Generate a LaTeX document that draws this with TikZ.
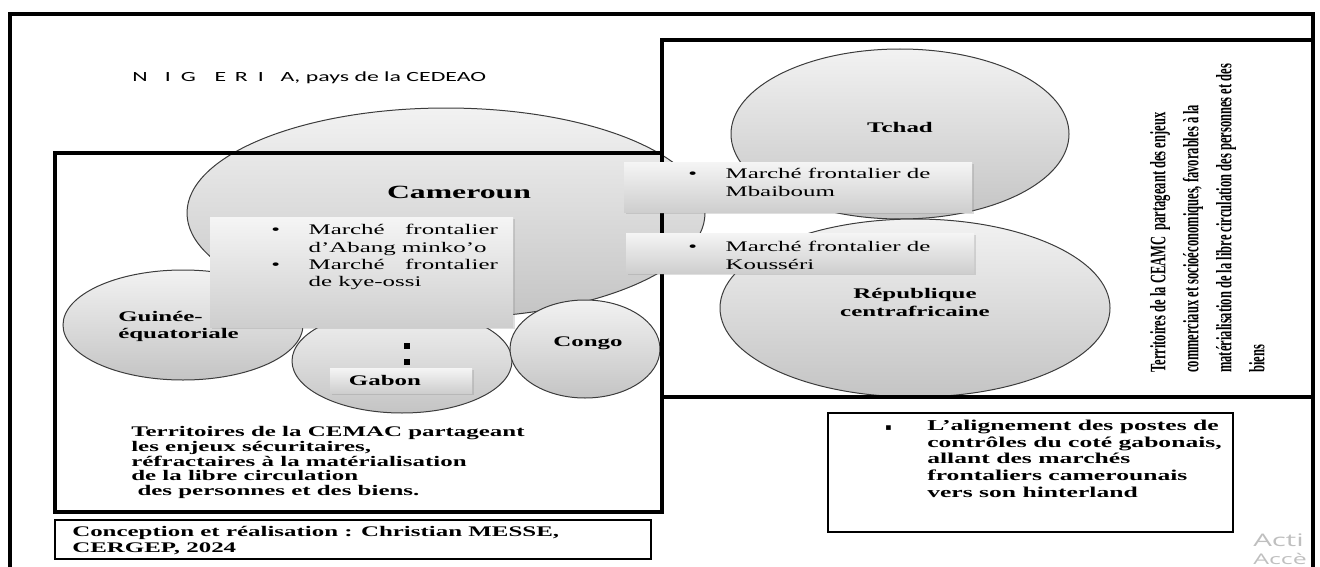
\documentclass[tikz,border=0pt]{standalone}
\usepackage{fontspec}
\setmainfont{Liberation Serif}[FakeStretch=1.7]
\newfontfamily\rotfont{Liberation Serif}[FakeStretch=0.57]
\newfontfamily\nigfont{Carlito}[FakeStretch=1.7]
\newfontfamily\symfont{DejaVu Sans}
\newfontfamily\winfont{Open Sans}[FakeStretch=1.7]
\usetikzlibrary{shadows}

\definecolor{paysHaut}{RGB}{242,242,242}
\definecolor{paysBas}{RGB}{196,196,196}
\definecolor{boiteHaut}{RGB}{245,245,245}
\definecolor{boiteBas}{RGB}{206,206,206}
\definecolor{contour}{RGB}{60,60,60}

\newcommand{\lignes}[1]{\begin{tabular}{@{}l@{}}#1\end{tabular}}
\newcommand{\puce}{\makebox[28pt][l]{\textbullet}}

\tikzset{
  pays/.style={draw=contour, line width=0.75pt, top color=paysHaut, bottom color=paysBas},
  marche/.style={top color=boiteHaut, bottom color=boiteBas,
    drop shadow={shadow xshift=1.2pt, shadow yshift=-1.2pt, opacity=0.25}},
  cadre/.style={line width=2.4pt},
  legende/.style={line width=0.9pt},
  texte/.style={inner sep=0pt, anchor=north west, font=\fontsize{11}{12.9}\selectfont},
  titre/.style={inner sep=0pt, anchor=base, font=\fontsize{11}{13}\selectfont\bfseries},
}

\begin{document}
\begin{tikzpicture}[x=0.75pt,y=0.75pt,yscale=-1,xscale=1]
\useasboundingbox (0,0) rectangle (1320,567);

%Shape: Ellipse [Cameroun]
\draw[pays] (446,213) ellipse (259 and 105);
%Shape: Ellipse [Guinee]
\draw[pays] (183,325) ellipse (120 and 55);
%Shape: Ellipse [Gabon]
\draw[pays] (402,361) ellipse (110 and 52);
%Shape: Ellipse [Congo]
\draw[pays] (585,349) ellipse (75 and 49);
%Shape: Ellipse [Tchad]
\draw[pays] (900,134) ellipse (169 and 85);
%Shape: Ellipse [RCA]
\draw[pays] (915,308) ellipse (195 and 89);

%Shape: Frames
\draw[cadre] (10,590) -- (10,14) -- (1313,14) -- (1313,590);
\draw[cadre] (662,40) rectangle (1313,397);
\draw[cadre] (55,153) rectangle (662,512);
\draw[legende] (55,520) rectangle (651,559);
\draw[legende] (828,413) rectangle (1233,532);

%Shape: Market boxes
\fill[marche] (210,217) rectangle (513,327);
\fill[marche] (624,162) rectangle (972,212);
\fill[marche] (626,233) rectangle (974,273);
\fill[marche] (330,368) rectangle (472,393);
\fill (404,343) rectangle (410,349);
\fill (404,359) rectangle (410,365);

% Text Node
\node[inner sep=0pt, anchor=base west, font=\nigfont\fontsize{10.5}{12}\selectfont] (nigeria) at (132,81)
  {N\hspace{13pt}I\hspace{7.5pt}G\hspace{14pt}E\hspace{6.5pt}R\hspace{7.5pt}I\hspace{12.5pt}A, pays de la CEDEAO};
% Text Node
\node[titre, font=\fontsize{14}{16}\selectfont\bfseries] (cameroun) at (459,198) {Cameroun};
% Text Node
\node[titre] (tchad) at (900,132.5) {Tchad};
% Text Node
\node[titre] (congo) at (588,346.5) {Congo};
% Text Node
\node[titre] (gabon) at (385,385.5) {Gabon};
% Text Node
\node[texte, font=\fontsize{11}{12.75}\selectfont\bfseries] (guinee) at (118,309.6) {\lignes{Guinée-\\équatoriale}};
% Text Node
\node[texte, anchor=north, font=\fontsize{11}{13.5}\selectfont\bfseries] (rca) at (915,286)
  {\begin{tabular}{@{}c@{}}République\\centrafricaine\end{tabular}};
% Text Node
\node[texte] (abang) at (271,222.5) {\begin{tabular}{@{}l@{}l@{}}
  \puce & \makebox[142pt][s]{Marché frontalier}\\
        & d’Abang minko’o\\
  \puce & \makebox[142pt][s]{Marché frontalier}\\
        & de kye-ossi
  \end{tabular}};
% Text Node
\node[texte] (mbaiboum) at (688,166.5) {\begin{tabular}{@{}l@{}l@{}}
  \puce & Marché frontalier de\\ & Mbaiboum\end{tabular}};
% Text Node
\node[texte] (kousseri) at (688,239.5) {\begin{tabular}{@{}l@{}l@{}}
  \puce & Marché frontalier de\\ & Kousséri\end{tabular}};
% Text Node
\node[texte, font=\fontsize{11}{10.9}\selectfont\bfseries] (cemac) at (131,426.4)
  {\lignes{Territoires de la CEMAC partageant\\les enjeux sécuritaires,\\réfractaires à la matérialisation\\de la libre circulation\\\ des personnes et des biens.}};
% Text Node
\node[texte, font=\fontsize{11}{12}\selectfont\bfseries] (credit) at (72,525.3)
  {\lignes{Conception et réalisation : Christian MESSE,\\CERGEP, 2024}};
% Text Node
\node[texte, font=\fontsize{11.3}{12.5}\selectfont\bfseries] (alignement) at (885,418.5) {\begin{tabular}{@{}l@{}l@{}}
  \makebox[31.5pt][l]{\symfont\fontsize{7}{8}\selectfont ▪} & L’alignement des postes de\\
  & contrôles du coté gabonais,\\
  & allant des marchés\\
  & frontaliers camerounais\\
  & vers son hinterland
  \end{tabular}};
% Text Node
\node[inner sep=0pt, rotate=90, anchor=north west, font=\rotfont\fontsize{16.5}{24.75}\selectfont\bfseries] (enjeux) at (1142,373)
  {\lignes{Territoires de la CEAMC\ \ partageant des enjeux\\commerciaux et socioéconomiques, favorables à la\\matérialisation de la libre circulation des personnes et des\\biens}};
% Text Node
\node[inner sep=0pt, anchor=base west, text=gray!50, font=\winfont\fontsize{13}{15}\selectfont] (acti) at (1253,546) {Acti};
\node[inner sep=0pt, anchor=base west, text=gray!50, font=\winfont\fontsize{11}{13}\selectfont] (acce) at (1253,564) {Accè};

\end{tikzpicture}
\end{document}
